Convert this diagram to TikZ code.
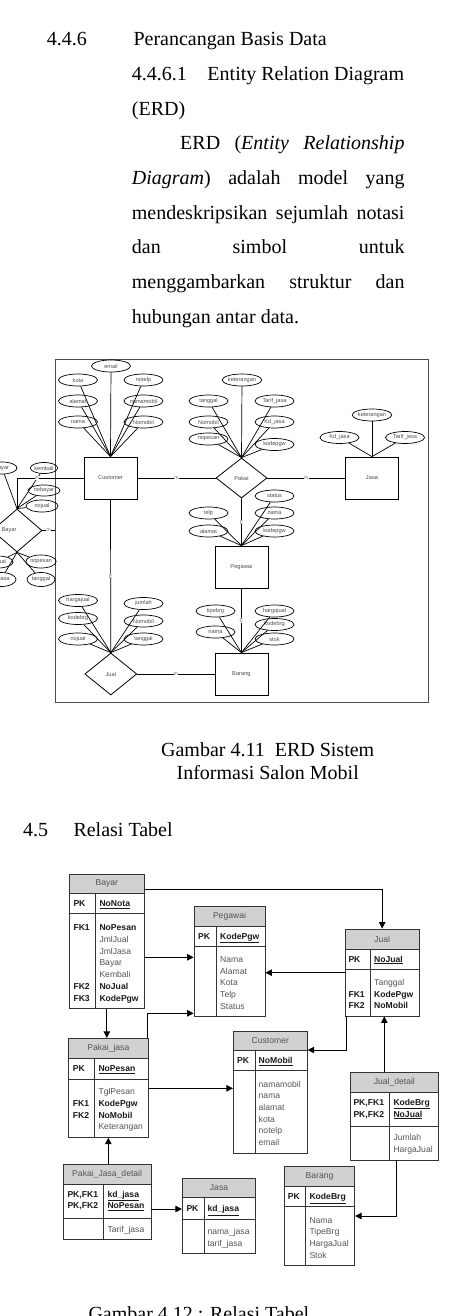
\documentclass[tikz,border=0pt]{standalone}
\usepackage{fontspec}
\setmainfont{Liberation Serif}
\setsansfont{Liberation Sans}
\usetikzlibrary{shapes.geometric,arrows.meta,fit}
\definecolor{hdr}{gray}{0.82}
\definecolor{tg}{gray}{0.33}
\definecolor{erdtxt}{gray}{0.3}
\newcounter{tn}
\newcommand\tx[4]{\stepcounter{tn}\node[#1] (t\thetn) at (#2,#3) {#4};}
\newcommand\dbtab[9]{%
  \node[tbox, fill=hdr, fit={(#2,#5) (#4,#6)}] (#1H) {};
  \node[ttl] (#1T) at (#1H.center) {#9};
  \node[tbox, fit={(#2,#6) (#4,#7)}] (#1P) {};
  \node[tbox, fit={(#2,#7) (#4,#8)}] (#1B) {};
  \draw[tline] (#3,#6) -- (#3,#8);
}
\begin{document}
\begin{tikzpicture}[x=1pt,y=-1pt,
  txt/.style={font=\fontsize{20}{24}\selectfont, inner sep=0pt, anchor=base west},
  attr/.style={draw, ellipse, line width=0.7pt, minimum width=39pt, minimum height=12pt, inner sep=0pt, font=\sffamily\fontsize{5.6}{6}\selectfont, text=erdtxt},
  sattr/.style={attr, minimum width=30pt, minimum height=12pt},
  ent/.style={draw, line width=0.8pt, minimum width=53pt, minimum height=42pt, inner sep=0pt, font=\sffamily\fontsize{5.7}{6}\selectfont, text=erdtxt},
  rel/.style={draw, diamond, line width=0.8pt, inner sep=0pt, font=\sffamily\fontsize{5.7}{6}\selectfont, text=erdtxt},
  lbl/.style={inner sep=0pt, font=\sffamily\fontsize{5.7}{6}\selectfont, text=erdtxt},
  mk/.style={fill=white, inner sep=0.2pt, font=\sffamily\fontsize{5}{5}\selectfont, text=black!60},
  ln/.style={line width=0.7pt},
  frame/.style={draw=black!70, line width=0.9pt},
  tbox/.style={draw=black!80, line width=0.8pt, inner sep=0pt},
  tline/.style={draw=black!80, line width=0.8pt},
  ttl/.style={inner sep=0pt, font=\sffamily\fontsize{8.6}{10}\selectfont, text=tg},
  tt/.style={anchor=base west, inner sep=0pt, font=\sffamily\fontsize{8.6}{10}\selectfont, text=tg},
  tb/.style={anchor=base west, inner sep=0pt, font=\sffamily\bfseries\fontsize{8.6}{10}\selectfont, text=black!90},
  arr/.style={line width=0.8pt, -{Triangle[length=6.5pt,width=6.5pt]}}
]
\useasboundingbox (0,0) rectangle (465,1316);
\clip (0,0) rectangle (465,1316);

% ---------------- text ----------------
\node[txt] (h1) at (46.7,46) {4.4.6};
\node[txt] (h2) at (133.3,46) {Perancangan Basis Data};
\node[txt] (h3) at (131.7,80.7) {4.4.6.1};
\node[txt, anchor=base east] (h4) at (404.3,80.7) {Entity Relation Diagram};
\node[txt] (h5) at (131.7,115.3) {(ERD)};
\node[txt] (p1) at (180,150) {\hbox to 224.3pt{ERD\hfill(\textit{Entity}\hfill\textit{Relationship}}};
\node[txt] (p2) at (131.7,184.6) {\hbox to 272.6pt{\textit{Diagram})\hfill adalah\hfill model\hfill yang}};
\node[txt] (p3) at (131.7,219.2) {\hbox to 272.6pt{mendeskripsikan\hfill sejumlah\hfill notasi}};
\node[txt] (p4) at (131.7,253.8) {\hbox to 272.6pt{dan\hfill simbol\hfill untuk}};
\node[txt] (p5) at (131.7,288.4) {\hbox to 272.6pt{menggambarkan\hfill struktur\hfill dan}};
\node[txt] (p6) at (131.7,323) {hubungan antar data.};

% ---------------- ERD ----------------
\draw[frame] (55,359) rectangle (428,702);

\node[ent] (cust) at (110.5,478) {Customer};
\node[ent] (jasa) at (372,478) {Jasa};
\node[ent] (peg) at (241.4,567) {Pegawai};
\node[ent] (bar) at (241.4,674) {Barang};
\node[rel, minimum width=51pt, minimum height=40pt] (pakai) at (241.5,478) {Pakai};
\node[rel, minimum width=52pt, minimum height=42pt] (jual) at (110.8,674) {Jual};
\node[rel, minimum width=50pt, minimum height=43pt] (bayar) at (17,530.5) {};
\node[lbl] (bayarL) at (9,530.5) {Bayar};

% Customer attributes
\node[attr] (c1) at (111,366) {email};
\node[attr] (c2) at (78,380) {kota};
\node[attr] (c3) at (143.5,380) {notelp};
\node[attr] (c4) at (78,401) {alamat};
\node[attr] (c5) at (143.5,401) {namamobil};
\node[attr] (c6) at (78,422) {nama};
\node[attr] (c7) at (143.5,422) {Nomobil};
\foreach \a in {c1,c2,c3,c4,c5,c6,c7} \draw[ln] (\a) -- (cust.north);

% Pakai attributes
\node[attr] (k1) at (242,380) {keterangan};
\node[attr] (k2) at (208.5,401) {tanggal};
\node[attr] (k3) at (274.5,401) {Tarif\_jasa};
\node[attr] (k4) at (208.5,422) {Nomobil};
\node[attr] (k5) at (274.5,422) {Kd\_jasa};
\node[attr] (k6) at (208.5,439) {nopesan};
\node[attr] (k7) at (274.5,444.5) {kodepgw};
\foreach \a in {k1,k2,k3,k4,k5,k6,k7} \draw[ln] (\a) -- (pakai.north);

% Jasa attributes
\node[attr] (j1) at (372,415) {keterangan};
\node[attr] (j2) at (339.5,437.5) {Kd\_jasa};
\node[attr] (j3) at (405,437.5) {Tarif\_jasa};
\foreach \a in {j1,j2,j3} \draw[ln] (\a) -- (jasa.north);

% Pegawai attributes
\node[attr] (g1) at (274.5,496) {status};
\node[attr] (g2) at (274.5,513) {nama};
\node[attr] (g3) at (274.5,531) {kodepgw};
\node[attr] (g4) at (208.5,513) {telp};
\node[attr] (g5) at (208.5,531) {alamat};
\foreach \a in {g1,g2,g3,g4,g5} \draw[ln] (\a) -- (peg.north);

% Barang attributes
\node[attr] (b1) at (215.5,611) {tipebrg};
\node[attr] (b2) at (215.5,632) {nama};
\node[attr] (b3) at (274.5,611) {hargajual};
\node[attr] (b4) at (274.5,624.5) {kodebrg};
\node[attr] (b5) at (274.5,639) {stok};
\foreach \a in {b1,b2,b3,b4,b5} \draw[ln] (\a) -- (bar.north);

% Jual attributes
\node[attr] (u1) at (78,600.5) {hargajual};
\node[attr] (u2) at (78,618.5) {kodebrg};
\node[attr] (u3) at (78,639) {nojual};
\node[attr] (u4) at (143.5,603.5) {jumlah};
\node[attr] (u5) at (143.5,621) {Nomobil};
\node[attr] (u6) at (143.5,639) {tanggal};
\foreach \a in {u1,u2,u3,u4,u5,u6} \draw[ln] (\a) -- (jual.north);

% Bayar attributes
\node[sattr] (y1) at (2,468) {bayar};
\node[sattr, minimum width=26pt, minimum height=11pt] (y2) at (44,468) {kembali};
\node[sattr, minimum width=32pt, minimum height=11pt] (y3) at (44,490.5) {nobayar};
\node[sattr, minimum width=32pt] (y4) at (42,506) {nojual};
\foreach \a in {y1,y2,y3,y4} \draw[ln] (\a) -- (bayar.north);
\node[sattr] (y5) at (-2,562) {jmljual};
\node[sattr, minimum height=14pt] (y6) at (1,579.5) {jmljasa};
\node[sattr, minimum width=28pt, minimum height=13pt] (y7) at (41,561.5) {nopesan};
\node[sattr, minimum width=28pt, minimum height=14pt] (y8) at (41,579.5) {tanggal};
\foreach \a in {y5,y6,y7,y8} \draw[ln] (\a) -- (bayar.south);

% relationships
\draw[ln] (cust.east) -- node[mk]{m} (pakai.west);
\draw[ln] (pakai.east) -- node[mk]{m} (jasa.west);
\draw[ln] (pakai.south) -- node[mk, rotate=90]{m} (peg.north);
\draw[ln] (cust.south) -- node[mk, rotate=90]{m} (jual.north);
\draw[ln] (peg.south) -- node[mk, rotate=90]{m} (bar.north);
\draw[ln] (jual.east) -- node[mk]{m} (bar.west);
\coordinate (bk) at (17,478);
\draw[ln] (cust.west) -- node[mk, pos=0.7]{m} (bk) -- (bayar.north);
\coordinate (bE) at (55,530.5);
\draw[ln] (bayar.east) -- node[mk]{m} (bE);

% captions
\node[txt, anchor=base] (cap1) at (267.7,756.7) {Gambar 4.11\ \ ERD Sistem};
\node[txt, anchor=base] (cap2) at (267.7,779) {Informasi Salon Mobil};
\node[txt] (s1) at (23,836.7) {4.5};
\node[txt] (s2) at (73.3,836.7) {Relasi Tabel};
\node[txt] (cap3) at (88.3,1320) {Gambar 4.12 : Relasi Tabel};

% ---------------- tables ----------------
\dbtab{bayar}{69.3}{95.7}{144.3}{874.3}{893.3}{913.3}{1008.3}{Bayar}
\tx{tb}{73.3}{906.4}{PK}
\tx{tb}{99.3}{906.4}{\underline{NoNota}}
\tx{tb}{73.3}{930.8}{FK1}
\tx{tb}{99.3}{930.8}{NoPesan}
\tx{tt}{99.3}{942.5}{JmlJual}
\tx{tt}{99.3}{954.2}{JmlJasa}
\tx{tt}{99.3}{965.9}{Bayar}
\tx{tt}{99.3}{977.6}{Kembali}
\tx{tb}{73.3}{989.3}{FK2}
\tx{tb}{99.3}{989.3}{NoJual}
\tx{tb}{73.3}{1001}{FK3}
\tx{tb}{99.3}{1001}{KodePgw}

\dbtab{peg}{194}{216}{265}{906.7}{926}{946}{1016.7}{Pegawai}
\tx{tb}{198}{939.1}{PK}
\tx{tb}{220}{939.1}{\underline{KodePgw}}
\tx{tt}{220}{962.4}{Nama}
\tx{tt}{220}{974.1}{Alamat}
\tx{tt}{220}{985.8}{Kota}
\tx{tt}{220}{997.5}{Telp}
\tx{tt}{220}{1009.2}{Status}

\dbtab{jual}{345}{370.7}{419.3}{929}{949}{969}{1016}{Jual}
\tx{tb}{348.3}{962.1}{PK}
\tx{tb}{374}{962.1}{\underline{NoJual}}
\tx{tt}{374}{985.4}{Tanggal}
\tx{tb}{348.3}{997.1}{FK1}
\tx{tb}{374}{997.1}{KodePgw}
\tx{tb}{348.3}{1008.8}{FK2}
\tx{tb}{374}{1008.8}{NoMobil}

\dbtab{cust}{233.3}{255}{307.3}{1031}{1050.7}{1070.7}{1153.3}{Customer}
\tx{tb}{237}{1063.8}{PK}
\tx{tb}{258.5}{1063.8}{\underline{NoMobil}}
\tx{tt}{258.5}{1087.1}{namamobil}
\tx{tt}{258.5}{1098.8}{nama}
\tx{tt}{258.5}{1110.5}{alamat}
\tx{tt}{258.5}{1122.2}{kota}
\tx{tt}{258.5}{1133.9}{notelp}
\tx{tt}{258.5}{1145.6}{email}

\dbtab{pj}{68.3}{94.3}{148.3}{1038.3}{1058.3}{1079}{1137.3}{Pakai\_jasa}
\tx{tb}{72.7}{1071.8}{PK}
\tx{tb}{98.3}{1071.8}{\underline{NoPesan}}
\tx{tt}{98.3}{1094.8}{TglPesan}
\tx{tb}{72.7}{1106.5}{FK1}
\tx{tb}{98.3}{1106.5}{KodePgw}
\tx{tb}{72.7}{1118.2}{FK2}
\tx{tb}{98.3}{1118.2}{NoMobil}
\tx{tt}{98.3}{1129.9}{Keterangan}

\dbtab{pjd}{63.3}{103.3}{151}{1164.3}{1184}{1218.3}{1239.3}{Pakai\_Jasa\_detail}
\tx{tb}{67.3}{1197.1}{PK,FK1}
\tx{tb}{107.3}{1197.1}{\underline{kd\_jasa}}
\tx{tb}{67.3}{1208.8}{PK,FK2}
\tx{tb}{107.3}{1208.8}{\underline{NoPesan}}
\tx{tt}{107.3}{1232.4}{Tarif\_jasa}

\dbtab{jasa}{182.3}{204}{255.7}{1178.3}{1197.7}{1219.3}{1253.3}{Jasa}
\tx{tb}{186.3}{1211.6}{PK}
\tx{tb}{207.3}{1211.6}{\underline{kd\_jasa}}
\tx{tt}{207.3}{1234.8}{nama\_jasa}
\tx{tt}{207.3}{1246.5}{tarif\_jasa}

\dbtab{jd}{350}{389.3}{438.7}{1072.7}{1092.7}{1126.7}{1160}{Jual\_detail}
\tx{tb}{353.3}{1105.4}{PK,FK1}
\tx{tb}{393.3}{1105.4}{\underline{KodeBrg}}
\tx{tb}{353.3}{1117.1}{PK,FK2}
\tx{tb}{393.3}{1117.1}{\underline{NoJual}}
\tx{tt}{393.3}{1140.8}{Jumlah}
\tx{tt}{393.3}{1152.5}{HargaJual}

\dbtab{bar}{284.3}{305.7}{354.7}{1166.7}{1186.7}{1206.7}{1265.7}{Barang}
\tx{tb}{287.7}{1199.8}{PK}
\tx{tb}{309.3}{1199.8}{\underline{KodeBrg}}
\tx{tt}{309.3}{1223.1}{Nama}
\tx{tt}{309.3}{1234.8}{TipeBrg}
\tx{tt}{309.3}{1246.5}{HargaJual}
\tx{tt}{309.3}{1258.2}{Stok}

% ---------------- arrows ----------------
\coordinate (yA) at (0,889.3);
\draw[arr] (bayarH.east |- yA) -| (jualH.north);
\coordinate (yB) at (0,957.3);
\draw[arr] (bayarB.east |- yB) -- (pegB.west |- yB);
\draw[arr] (bayarB.south) -- (bayarB.south |- pjH.north);
\coordinate (pA) at (147.3,1013.3);
\draw[arr] (pjH.north -| pA) |- (pegB.west |- pA);
\coordinate (yC) at (0,972.7);
\draw[arr] (jualB.west |- yC) -- (pegB.east |- yC);
\coordinate (jA) at (346.7,1050);
\draw[arr] (jualB.south -| jA) |- (custH.east |- jA);
\coordinate (jB) at (384.3,0);
\draw[arr] (jdH.north -| jB) -- (jualB.south -| jB);
\coordinate (jC) at (396.7,1216);
\draw[arr] (jdB.south -| jC) |- (barB.east |- jC);
\coordinate (yD) at (0,1088.3);
\draw[arr] (pjB.east |- yD) -- (custB.west |- yD);
\coordinate (xE) at (108.3,0);
\draw[arr] (pjdH.north -| xE) -- (pjB.south -| xE);
\coordinate (yF) at (0,1209);
\draw[arr] (pjdP.east |- yF) -- (jasaP.west |- yF);
\end{tikzpicture}
\end{document}
